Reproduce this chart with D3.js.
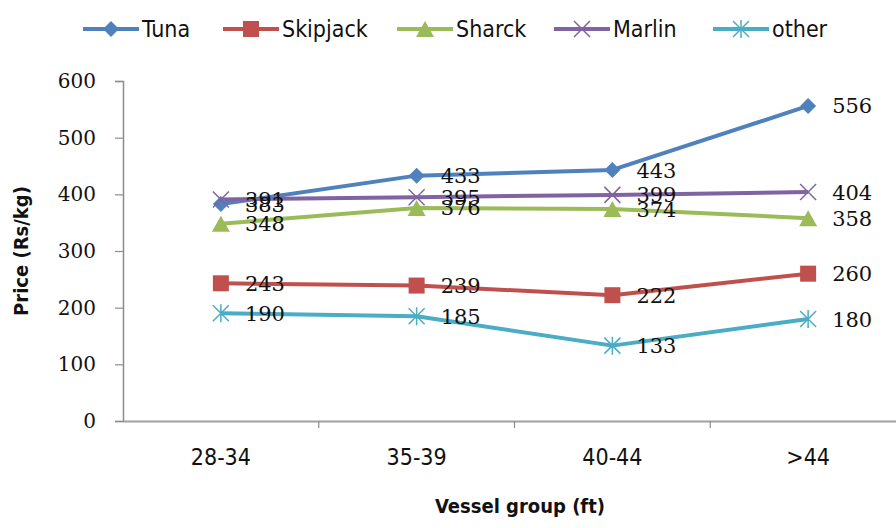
<!DOCTYPE html>
<html>
<head>
<meta charset="utf-8">
<script src="https://cdn.jsdelivr.net/npm/d3@7/dist/d3.min.js"></script>
<style>
  html, body { margin: 0; padding: 0; background: #fff; }
  svg { display: block; }
</style>
</head>
<body>
<svg id="chart" width="896" height="528"></svg>
<script>
// Price by vessel group, one line per catch type
const categories = ["28-34", "35-39", "40-44", ">44"];
const seriesNames = ["Tuna", "Skipjack", "Sharck", "Marlin", "other"];
const tuna     = [383, 433, 443, 556];
const skipjack = [243, 239, 222, 260];
const sharck   = [348, 376, 374, 358];
const marlin   = [391, 395, 399, 404];
const other    = [190, 185, 133, 180];
const yTicks   = [0, 100, 200, 300, 400, 500, 600];

const colors  = ["#4F81BD", "#C0504D", "#9BBB59", "#8064A2", "#4BACC6"];
const markers = ["diamond", "square", "triangle", "cross", "star"];
const values  = [tuna, skipjack, sharck, marlin, other];

const series = seriesNames.map((name, i) => ({
  name, values: values[i], color: colors[i], marker: markers[i]
}));

const svg = d3.select("#chart");
const plot = { left: 123, right: 906, top: 81, bottom: 421 };

const x = d3.scaleBand().domain(categories).range([plot.left, plot.right]);
const y = d3.scaleLinear().domain([0, 600]).range([plot.bottom, plot.top]);
const cx = c => x(c) + x.bandwidth() / 2;

const sansNarrow = "'DejaVu Sans Condensed', 'DejaVu Sans', sans-serif";
const serif = "'DejaVu Serif', serif";

// Marker shapes drawn around (0,0)
function drawMarker(g, type, color) {
  if (type === "diamond") {
    g.append("path").attr("d", "M0,-8L8,0L0,8L-8,0Z").attr("fill", color);
  } else if (type === "square") {
    g.append("rect").attr("x", -8).attr("y", -8).attr("width", 16).attr("height", 16).attr("fill", color);
  } else if (type === "triangle") {
    g.append("path").attr("d", "M0,-8L9,8L-9,8Z").attr("fill", color);
  } else if (type === "cross") {
    g.append("path").attr("d", "M-8,-8L8,8M-8,8L8,-8")
      .attr("stroke", color).attr("stroke-width", 1.5).attr("fill", "none");
  } else if (type === "star") {
    g.append("path").attr("d", "M-8,-8L8,8M-8,8L8,-8M0,-9L0,9")
      .attr("stroke", color).attr("stroke-width", 1.5).attr("fill", "none");
  }
}

// Axes
const yAxis = d3.axisLeft(y).tickValues(yTicks).tickSize(8).tickPadding(19);
const yG = svg.append("g").attr("transform", `translate(${plot.left},0)`).call(yAxis);
yG.select(".domain").attr("stroke", "#8c8c8c").attr("stroke-width", 1.5);
yG.selectAll(".tick line").attr("stroke", "#8c8c8c").attr("stroke-width", 1.2);
yG.selectAll(".tick text").attr("font-family", serif).attr("font-size", 20).attr("fill", "#111");

const xAxis = d3.axisBottom(x).tickSize(0).tickPadding(22);
const xG = svg.append("g").attr("transform", `translate(0,${plot.bottom})`).call(xAxis);
xG.select(".domain").attr("stroke", "#a0a0a0").attr("stroke-width", 2);
xG.selectAll(".tick text").attr("font-family", sansNarrow).attr("font-size", 23).attr("fill", "#111")
  .attr("dy", "0.95em");
// tick marks between categories
xG.selectAll(".sep").data(categories.slice(1)).enter().append("line")
  .attr("class", "sep")
  .attr("x1", d => x(d)).attr("x2", d => x(d))
  .attr("y1", 0).attr("y2", 7)
  .attr("stroke", "#8c8c8c").attr("stroke-width", 1.2);

// Axis titles
svg.append("text")
  .attr("transform", `translate(28,${(plot.top + plot.bottom) / 2}) rotate(-90)`)
  .attr("text-anchor", "middle")
  .attr("font-family", sansNarrow).attr("font-weight", "bold").attr("font-size", 20)
  .attr("fill", "#111")
  .text("Price (Rs/kg)");

svg.append("text")
  .attr("x", 520).attr("y", 513)
  .attr("text-anchor", "middle")
  .attr("font-family", sansNarrow).attr("font-weight", "bold").attr("font-size", 20)
  .attr("fill", "#111")
  .text("Vessel group (ft)");

// Lines, markers and value labels
const line = d3.line().x((d, i) => cx(categories[i])).y(d => y(d));

series.forEach(s => {
  svg.append("path")
    .datum(s.values)
    .attr("d", line)
    .attr("fill", "none")
    .attr("stroke", s.color)
    .attr("stroke-width", 4)
    .attr("stroke-linejoin", "round");
});

series.forEach(s => {
  s.values.forEach((v, i) => {
    const g = svg.append("g").attr("transform", `translate(${cx(categories[i])},${y(v)})`);
    drawMarker(g, s.marker, s.color);
  });
});

series.forEach(s => {
  svg.append("g").selectAll("text").data(s.values).enter().append("text")
    .attr("x", (d, i) => cx(categories[i]) + 24)
    .attr("y", d => y(d))
    .attr("dy", "0.36em")
    .attr("font-family", serif).attr("font-size", 21)
    .attr("fill", "#111")
    .text(d => d);
});

// Legend
const legendX = [83, 223, 397, 554, 713];
const legendY = 29;
series.forEach((s, i) => {
  const g = svg.append("g").attr("transform", `translate(${legendX[i]},${legendY})`);
  g.append("line").attr("x1", 0).attr("x2", 56).attr("y1", 0).attr("y2", 0)
    .attr("stroke", s.color).attr("stroke-width", 4);
  const m = g.append("g").attr("transform", "translate(28,0)");
  drawMarker(m, s.marker, s.color);
  g.append("text").attr("x", 59).attr("y", 0).attr("dy", "0.36em")
    .attr("font-family", sansNarrow).attr("font-size", 23).attr("fill", "#111")
    .text(s.name);
});
</script>
</body>
</html>
